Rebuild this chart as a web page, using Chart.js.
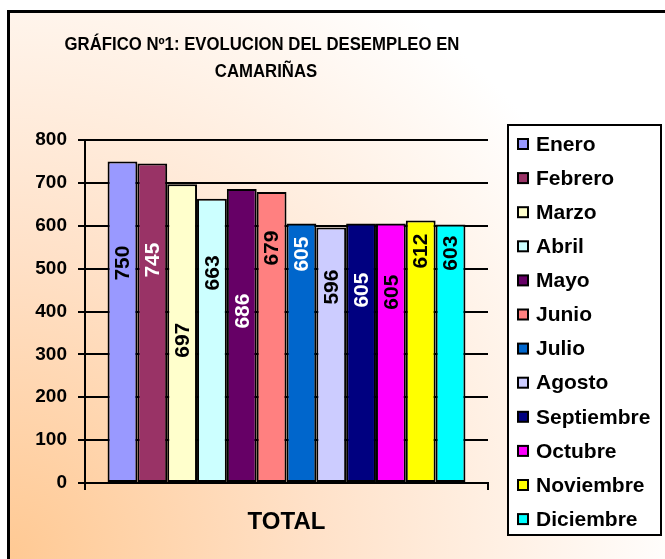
<!DOCTYPE html>
<html>
<head>
<meta charset="utf-8">
<script src="https://cdn.jsdelivr.net/npm/chart.js@4.4.1/dist/chart.umd.min.js"></script>
<style>
html,body{margin:0;padding:0;background:#ffffff;}
#wrap{width:665px;height:559px;position:relative;}
</style>
</head>
<body>
<div id="wrap"><canvas id="c" width="665" height="559"></canvas></div>
<script>
// ---- data ----
const categories = ['TOTAL'];
const months = ['Enero','Febrero','Marzo','Abril','Mayo','Junio','Julio','Agosto','Septiembre','Octubre','Noviembre','Diciembre'];
const values = [750, 745, 697, 663, 686, 679, 605, 596, 605, 605, 612, 603];
const yTickValues = [0, 100, 200, 300, 400, 500, 600, 700, 800];
const titleLines = ['GRÁFICO Nº1: EVOLUCION DEL DESEMPLEO EN', 'CAMARIÑAS'];

// ---- styles ----
const barColors = ['#9999FF','#993366','#FFFFCC','#CCFFFF','#660066','#FF8080','#0066CC','#CCCCFF','#000080','#FF00FF','#FFFF00','#00FFFF'];
const labelColors = ['#000','#fff','#000','#000','#fff','#000','#fff','#000','#fff','#000','#000','#000'];
// where (in value units) each rotated label is centred, as in the original
const labelAnchors = [513, 520, 333, 490, 401, 548, 534, 457, 450, 445, 541, 536];
const FONT = '"Liberation Sans", Arial, Helvetica, sans-serif';

const datasets = months.map((m, i) => ({
  label: m,
  data: [values[i]],
  backgroundColor: barColors[i],
  borderColor: '#000000',
  borderWidth: 2,
  borderSkipped: false,
  categoryPercentage: 0.888,
  barPercentage: 1.0
}));

const bgPlugin = {
  id: 'bg',
  beforeDraw(chart) {
    const ctx = chart.ctx;
    const W = chart.width, H = chart.height;
    ctx.save();
    ctx.fillStyle = '#ffffff';
    ctx.fillRect(0, 0, W, H);
    const g = ctx.createRadialGradient(8, 559, 0, 8, 559, 680);
    g.addColorStop(0, '#FFC993');
    g.addColorStop(0.45, '#FFE1C8');
    g.addColorStop(1, '#FFFFFF');
    ctx.fillStyle = g;
    ctx.fillRect(8, 11, W, H);
    ctx.lineWidth = 3;
    ctx.strokeStyle = '#000';
    ctx.beginPath();
    ctx.moveTo(8.5, H + 5);
    ctx.lineTo(8.5, 11.5);
    ctx.lineTo(W + 5, 11.5);
    ctx.stroke();
    ctx.restore();
  }
};

const titlePlugin = {
  id: 'ttl',
  afterDraw(chart) {
    const ctx = chart.ctx;
    ctx.save();
    ctx.fillStyle = '#000';
    ctx.font = 'bold 18px ' + FONT;
    ctx.textAlign = 'center';
    ctx.textBaseline = 'middle';
    const lines = [[titleLines[0], 262, 45], [titleLines[1], 266, 72]];
    lines.forEach(([t, x, y]) => {
      ctx.save();
      ctx.translate(x, y);
      ctx.scale(0.93, 1);
      ctx.fillText(t, 0, 0);
      ctx.restore();
    });
    ctx.restore();
  }
};

const labelPlugin = {
  id: 'vlabels',
  afterDatasetsDraw(chart) {
    const ctx = chart.ctx;
    const ys = chart.scales.y;
    ctx.save();
    ctx.font = 'bold 21px ' + FONT;
    ctx.textAlign = 'center';
    ctx.textBaseline = 'middle';
    chart.data.datasets.forEach((ds, i) => {
      const bar = chart.getDatasetMeta(i).data[0];
      const y = ys.getPixelForValue(labelAnchors[i]);
      ctx.save();
      ctx.translate(bar.x + 1, y);
      ctx.rotate(-Math.PI / 2);
      ctx.fillStyle = labelColors[i];
      ctx.fillText(String(ds.data[0]), 0, 0);
      ctx.restore();
    });
    ctx.restore();
  }
};

const legendPlugin = {
  id: 'boxlegend',
  afterDraw(chart) {
    const ctx = chart.ctx;
    const left = 508, top = 125, right = 661, bottom = 535;
    ctx.save();
    ctx.fillStyle = '#ffffff';
    ctx.fillRect(left, top, right - left, bottom - top);
    ctx.lineWidth = 2;
    ctx.strokeStyle = '#000';
    ctx.strokeRect(left, top, right - left, bottom - top);
    ctx.font = 'bold 21px ' + FONT;
    ctx.textBaseline = 'middle';
    ctx.textAlign = 'left';
    const first = 144, step = 34.1;
    chart.data.datasets.forEach((ds, i) => {
      const cy = first + i * step;
      ctx.fillStyle = ds.backgroundColor;
      ctx.fillRect(518, cy - 5, 10, 10);
      ctx.lineWidth = 2;
      ctx.strokeStyle = '#000';
      ctx.strokeRect(518, cy - 5, 10, 10);
      ctx.fillStyle = '#000';
      ctx.fillText(ds.label, 536, cy + 1);
    });
    ctx.restore();
  }
};

new Chart(document.getElementById('c'), {
  type: 'bar',
  data: { labels: categories, datasets },
  options: {
    responsive: false,
    animation: false,
    devicePixelRatio: 1,
    layout: { padding: { left: 25, top: 140, right: 177, bottom: 0 } },
    plugins: {
      legend: { display: false },
      title: { display: false },
      tooltip: { enabled: false }
    },
    scales: {
      x: {
        offset: true,
        grid: { display: true, drawOnChartArea: false, color: '#000', lineWidth: 2, tickLength: 7 },
        border: { display: true, color: '#000', width: 2 },
        ticks: { color: '#000', font: { family: FONT, size: 24, weight: 'bold' }, padding: 18 },
        afterFit: s => { s.height = 76; }
      },
      y: {
        min: 0,
        max: 800,
        afterBuildTicks: s => { s.ticks = yTickValues.map(v => ({ value: v })); },
        grid: { color: '#000', lineWidth: 2, tickLength: 7 },
        border: { display: true, color: '#000', width: 2 },
        ticks: { color: '#000', font: { family: FONT, size: 19, weight: 'bold' }, padding: 11 },
        afterFit: s => { s.width = 60; }
      }
    }
  },
  plugins: [bgPlugin, titlePlugin, labelPlugin, legendPlugin]
});
</script>
</body>
</html>
